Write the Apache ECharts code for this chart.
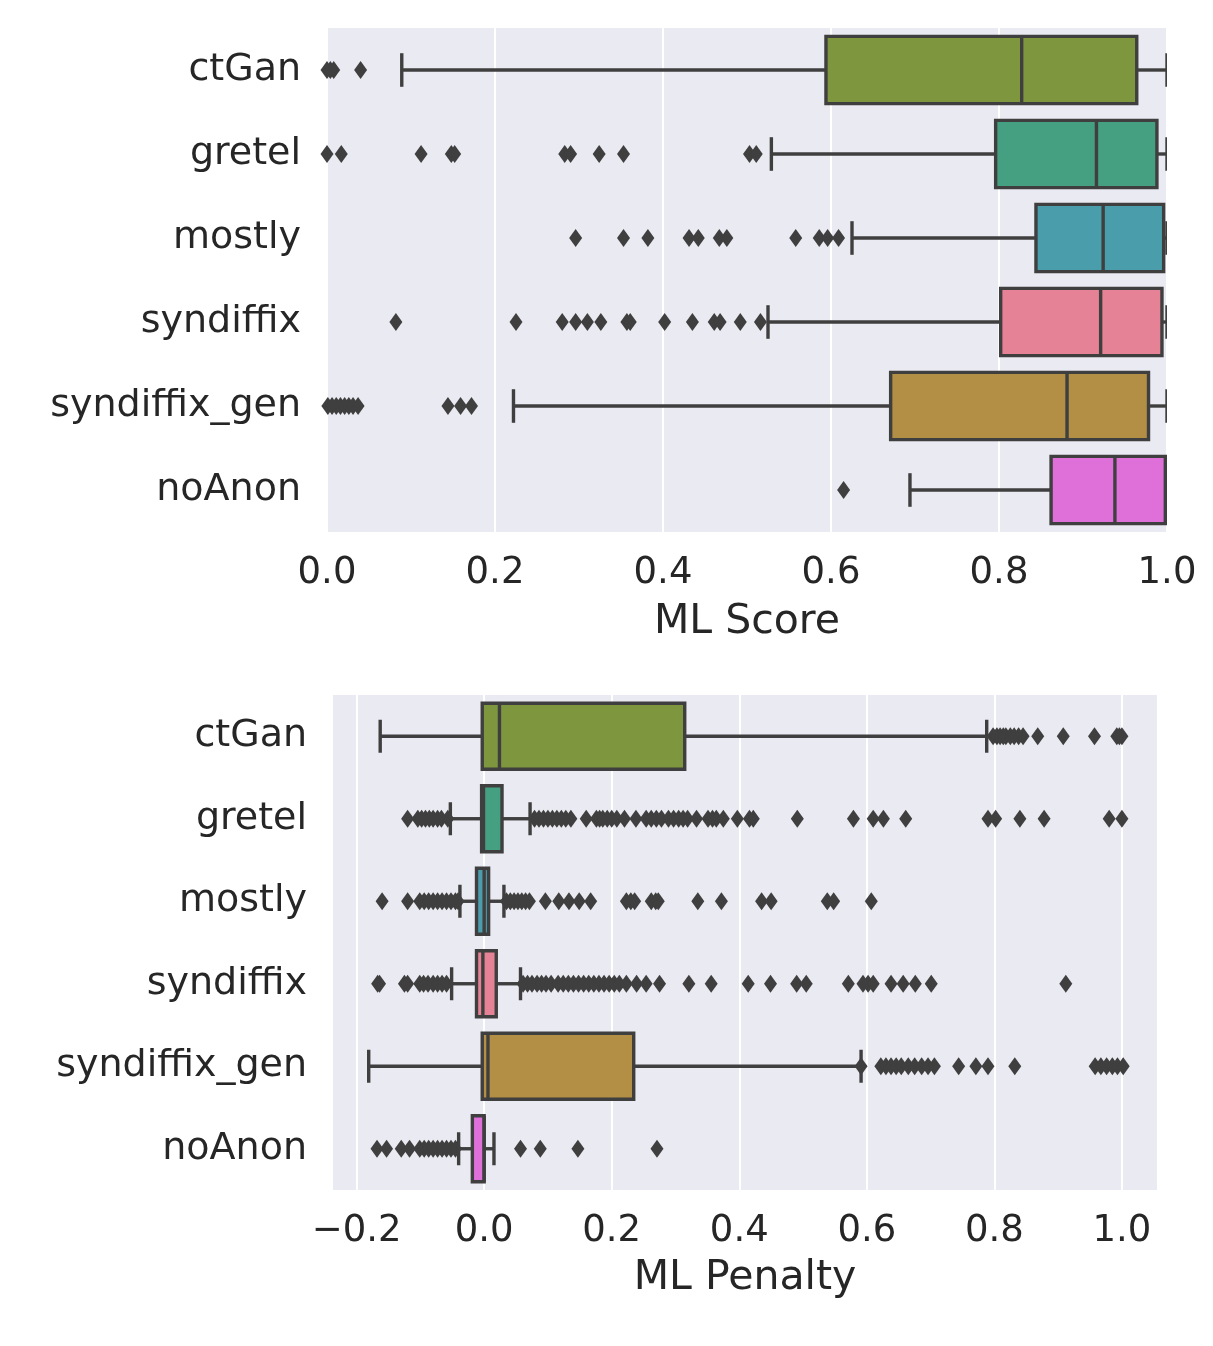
<!DOCTYPE html>
<html>
<head>
<meta charset="utf-8">
<script src="https://cdn.jsdelivr.net/npm/echarts@6/dist/echarts.min.js"></script>
<style>
html,body{margin:0;padding:0;background:#fff;}
#chart{width:1213px;height:1346px;}
</style>
</head>
<body>
<div id="chart"></div>
<script>
// ---------------- DATA ----------------
const categories = ['ctGan', 'gretel', 'mostly', 'syndiffix', 'syndiffix_gen', 'noAnon'];
const boxColors = ['#7e973e', '#45a082', '#4a9daa', '#e68295', '#b38e45', '#df70d9'];

// [whiskerLow, Q1, median, Q3, whiskerHigh]
const scoreBoxes = [
  [0.089, 0.594, 0.827, 0.964, 1.0],
  [0.529, 0.796, 0.916, 0.988, 1.0],
  [0.625, 0.844, 0.924, 0.996, 1.0],
  [0.525, 0.802, 0.921, 0.994, 1.0],
  [0.222, 0.671, 0.881, 0.978, 1.0],
  [0.694, 0.862, 0.938, 0.998, 1.0]
];
const scoreOutliers = [
  [0.0, 0.004, 0.008, 0.040],
  [0.0, 0.017, 0.112, 0.148, 0.152, 0.283, 0.290, 0.324, 0.353, 0.503, 0.511],
  [0.296, 0.353, 0.382, 0.431, 0.442, 0.467, 0.476, 0.558, 0.586, 0.596, 0.609],
  [0.082, 0.225, 0.280, 0.296, 0.310, 0.326, 0.357, 0.361, 0.402, 0.435, 0.461, 0.468, 0.492, 0.516],
  [0.001, 0.006, 0.011, 0.016, 0.021, 0.026, 0.031, 0.037, 0.144, 0.159, 0.172],
  [0.615]
];

const penaltyBoxes = [
  [-0.163, -0.003, 0.024, 0.3145, 0.788],
  [-0.053, -0.004, -0.001, 0.028, 0.072],
  [-0.038, -0.012, 0.0, 0.007, 0.031],
  [-0.051, -0.012, -0.002, 0.019, 0.057],
  [-0.181, -0.003, 0.006, 0.2345, 0.591],
  [-0.040, -0.0185, 0.0, 0.0, 0.0154]
];
const penaltyOutliers = [
  [0.798, 0.804, 0.809, 0.814, 0.818, 0.825, 0.831, 0.838, 0.845, 0.868, 0.908, 0.957, 0.992, 0.996, 1.0],
  [-0.120, -0.104, -0.098, -0.092, -0.086, -0.080, -0.073, -0.067, -0.057,
   0.079, 0.086, 0.093, 0.100, 0.107, 0.114, 0.121, 0.128, 0.136, 0.160, 0.176, 0.181, 0.186, 0.193, 0.200, 0.208,
   0.220, 0.238, 0.254, 0.262, 0.270, 0.278, 0.289, 0.297, 0.305, 0.312, 0.319, 0.333, 0.351, 0.358, 0.364, 0.375,
   0.397, 0.416, 0.422, 0.491, 0.579, 0.610, 0.626, 0.661, 0.790, 0.802, 0.840, 0.878, 0.980, 1.0],
  [-0.160, -0.120, -0.101, -0.094, -0.087, -0.080, -0.073, -0.066, -0.059, -0.052, -0.045, -0.041,
   0.035, 0.041, 0.047, 0.053, 0.059, 0.065, 0.071, 0.096, 0.117, 0.133, 0.149, 0.167, 0.223, 0.230, 0.236,
   0.262, 0.269, 0.273, 0.335, 0.372, 0.435, 0.450, 0.538, 0.548, 0.607],
  [-0.167, -0.164, -0.125, -0.120, -0.101, -0.095, -0.088, -0.080, -0.073, -0.066, -0.059,
   0.061, 0.068, 0.075, 0.083, 0.090, 0.097, 0.105, 0.116, 0.124, 0.132, 0.140, 0.148, 0.156, 0.164, 0.172,
   0.180, 0.188, 0.196, 0.204, 0.212, 0.223, 0.239, 0.254, 0.275, 0.321, 0.356, 0.414, 0.449, 0.490, 0.505,
   0.571, 0.594, 0.602, 0.610, 0.638, 0.657, 0.676, 0.701, 0.912],
  [0.591, 0.622, 0.630, 0.638, 0.646, 0.654, 0.665, 0.675, 0.686, 0.696, 0.706, 0.744, 0.771, 0.790, 0.832,
   0.958, 0.967, 0.976, 0.985, 0.993, 1.002],
  [-0.168, -0.153, -0.130, -0.117, -0.101, -0.094, -0.087, -0.080, -0.073, -0.066, -0.059, -0.052, -0.045,
   0.057, 0.088, 0.147, 0.271]
];

const scoreTicks = [0.0, 0.2, 0.4, 0.6, 0.8, 1.0];
const penaltyTicks = [-0.2, 0.0, 0.2, 0.4, 0.6, 0.8, 1.0];

// ---------------- BUILD ----------------
const FONT = 'DejaVu Sans';
const TXT = '#262626';
const EDGE = '#3f3f3f';

function boxData(boxes) {
  return boxes.map((b, i) => [i].concat(b));
}
function outlierData(outs) {
  const d = [];
  outs.forEach((arr, i) => arr.forEach(v => d.push([v, i])));
  return d;
}

function renderBox(params, api) {
  const cat = api.value(0);
  const lo = api.value(1), q1 = api.value(2), med = api.value(3), q3 = api.value(4), hi = api.value(5);
  const band = api.size([0, 1])[1];
  const h = band * 0.8;
  const yc = api.coord([q1, cat])[1];
  const xLo = api.coord([lo, cat])[0];
  const xQ1 = api.coord([q1, cat])[0];
  const xMed = api.coord([med, cat])[0];
  const xQ3 = api.coord([q3, cat])[0];
  const xHi = api.coord([hi, cat])[0];
  const lw = 3.4;
  const lineStyle = { stroke: EDGE, lineWidth: lw, fill: null };
  const cap = h / 4;
  return {
    type: 'group',
    children: [
      { type: 'line', shape: { x1: xLo, y1: yc, x2: xQ1, y2: yc }, style: lineStyle },
      { type: 'line', shape: { x1: xQ3, y1: yc, x2: xHi, y2: yc }, style: lineStyle },
      { type: 'line', shape: { x1: xLo, y1: yc - cap, x2: xLo, y2: yc + cap }, style: lineStyle },
      { type: 'line', shape: { x1: xHi, y1: yc - cap, x2: xHi, y2: yc + cap }, style: lineStyle },
      { type: 'rect', shape: { x: xQ1, y: yc - h / 2, width: xQ3 - xQ1, height: h },
        style: { fill: boxColors[cat], stroke: EDGE, lineWidth: lw } },
      { type: 'line', shape: { x1: xMed, y1: yc - h / 2, x2: xMed, y2: yc + h / 2 }, style: lineStyle }
    ]
  };
}

function fmt(v) {
  const s = Number(v).toFixed(1);
  return s.replace('-', '\u2212');
}

function makeXAxis(gridIndex, min, max, ticks, name, nameGap) {
  return {
    type: 'value', gridIndex: gridIndex, min: min, max: max,
    name: name, nameLocation: 'middle', nameGap: nameGap,
    nameTextStyle: { fontFamily: FONT, fontSize: 41, color: TXT },
    axisLine: { show: false },
    axisTick: { show: false, customValues: ticks },
    axisLabel: { customValues: ticks, formatter: fmt, fontFamily: FONT, fontSize: 37, color: TXT, margin: 23 },
    splitLine: { show: true, lineStyle: { color: '#ffffff', width: 2 } }
  };
}
function makeYAxis(gridIndex) {
  return {
    type: 'category', gridIndex: gridIndex, data: categories, inverse: true,
    axisLine: { show: false }, axisTick: { show: false },
    axisLabel: { fontFamily: FONT, fontSize: 38, color: TXT, margin: 26, padding: [6, 0, 0, 0] },
    splitLine: { show: false }
  };
}

const option = {
  animation: false,
  backgroundColor: '#ffffff',
  grid: [
    { left: 327, right: 46, top: 28, height: 504, show: true, backgroundColor: '#eaeaf2', borderWidth: 0 },
    { left: 333, right: 56, top: 695, height: 495, show: true, backgroundColor: '#eaeaf2', borderWidth: 0 }
  ],
  xAxis: [
    makeXAxis(0, 0, 1, scoreTicks, 'ML Score', 70),
    makeXAxis(1, -0.237, 1.055, penaltyTicks, 'ML Penalty', 68)
  ],
  yAxis: [makeYAxis(0), makeYAxis(1)],
  series: [
    { type: 'custom', xAxisIndex: 0, yAxisIndex: 0, clip: true, renderItem: renderBox,
      encode: { x: [1, 2, 3, 4, 5], y: 0 }, data: boxData(scoreBoxes), z: 3 },
    { type: 'scatter', xAxisIndex: 0, yAxisIndex: 0, clip: true, symbol: 'diamond', symbolSize: [13, 18],
      itemStyle: { color: EDGE, opacity: 1 }, data: outlierData(scoreOutliers), z: 2 },
    { type: 'custom', xAxisIndex: 1, yAxisIndex: 1, clip: true, renderItem: renderBox,
      encode: { x: [1, 2, 3, 4, 5], y: 0 }, data: boxData(penaltyBoxes), z: 3 },
    { type: 'scatter', xAxisIndex: 1, yAxisIndex: 1, clip: true, symbol: 'diamond', symbolSize: [13, 18],
      itemStyle: { color: EDGE, opacity: 1 }, data: outlierData(penaltyOutliers), z: 2 }
  ]
};

const chart = echarts.init(document.getElementById('chart'), null, { renderer: 'canvas' });
chart.setOption(option);
</script>
</body>
</html>
